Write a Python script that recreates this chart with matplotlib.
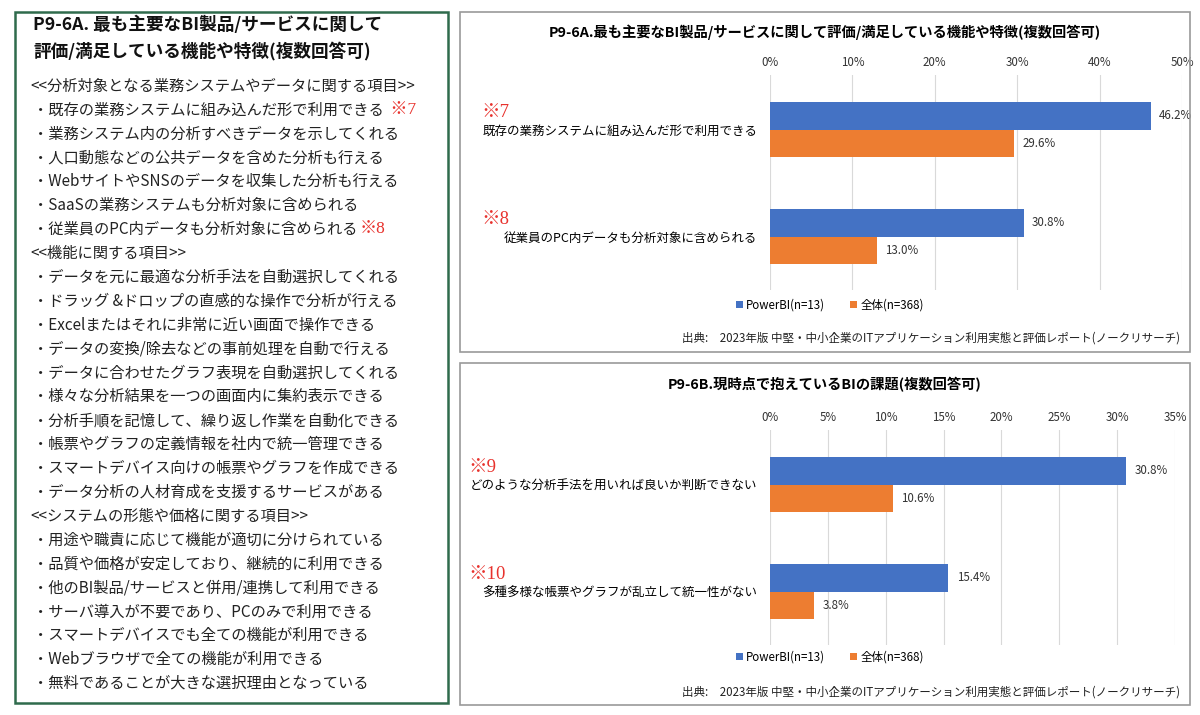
import matplotlib
matplotlib.use("Agg")
import matplotlib.pyplot as plt
from matplotlib.patches import Rectangle
from matplotlib.transforms import blended_transform_factory

plt.rcParams['font.family'] = ['Noto Sans CJK JP', 'DejaVu Sans']

# data
cats_a = ['既存の業務システムに組み込んだ形で利用できる', '従業員のPC内データも分析対象に含められる']
notes_a = ['※7', '※8']
powerbi_a = [46.2, 30.8]
total_a = [29.6, 13.0]
ticks_a = [0, 10, 20, 30, 40, 50]

cats_b = ['どのような分析手法を用いれば良いか判断できない', '多種多様な帳票やグラフが乱立して統一性がない']
notes_b = ['※9', '※10']
powerbi_b = [30.8, 15.4]
total_b = [10.6, 3.8]
ticks_b = [0, 5, 10, 15, 20, 25, 30, 35]

series_names = ['PowerBI(n=13)', '全体(n=368)']
title_a = 'P9-6A.最も主要なBI製品/サービスに関して評価/満足している機能や特徴(複数回答可)'
title_b = 'P9-6B.現時点で抱えているBIの課題(複数回答可)'
source = '出典:　2023年版 中堅・中小企業のITアプリケーション利用実態と評価レポート(ノークリサーチ)'

left_title = ['P9-6A. 最も主要なBI製品/サービスに関して', '評価/満足している機能や特徴(複数回答可)']
left_lines = [
    '<<分析対象となる業務システムやデータに関する項目>>',
    '・既存の業務システムに組み込んだ形で利用できる',
    '・業務システム内の分析すべきデータを示してくれる',
    '・人口動態などの公共データを含めた分析も行える',
    '・WebサイトやSNSのデータを収集した分析も行える',
    '・SaaSの業務システムも分析対象に含められる',
    '・従業員のPC内データも分析対象に含められる',
    '<<機能に関する項目>>',
    '・データを元に最適な分析手法を自動選択してくれる',
    '・ドラッグ &ドロップの直感的な操作で分析が行える',
    '・Excelまたはそれに非常に近い画面で操作できる',
    '・データの変換/除去などの事前処理を自動で行える',
    '・データに合わせたグラフ表現を自動選択してくれる',
    '・様々な分析結果を一つの画面内に集約表示できる',
    '・分析手順を記憶して、繰り返し作業を自動化できる',
    '・帳票やグラフの定義情報を社内で統一管理できる',
    '・スマートデバイス向けの帳票やグラフを作成できる',
    '・データ分析の人材育成を支援するサービスがある',
    '<<システムの形態や価格に関する項目>>',
    '・用途や職責に応じて機能が適切に分けられている',
    '・品質や価格が安定しており、継続的に利用できる',
    '・他のBI製品/サービスと併用/連携して利用できる',
    '・サーバ導入が不要であり、PCのみで利用できる',
    '・スマートデバイスでも全ての機能が利用できる',
    '・Webブラウザで全ての機能が利用できる',
    '・無料であることが大きな選択理由となっている',
]
left_notes = {1: ' ※7', 6: '※8'}

BLUE = '#4472C4'
ORANGE = '#ED7D31'
RED = '#E8322D'
NOTE_FONT = ['Liberation Serif', 'Noto Sans CJK JP']

W, H = 1200, 715
fig = plt.figure(figsize=(W / 100, H / 100), dpi=100)


def fx(x):
    return x / W


def fy(y):
    return 1 - y / H


# left text panel
fig.patches.append(Rectangle((fx(15), fy(703)), fx(433), 691 / H, transform=fig.transFigure,
                             fill=False, edgecolor='#2f6b4c', linewidth=1.8))
for i, t in enumerate(left_title):
    fig.text(fx(33), fy(25 + i * 26), t, fontsize=12.7, fontweight='bold', va='center', color='#111111')

line_texts = []
for i, t in enumerate(left_lines):
    x = 30 if t.startswith('<<') else 33
    line_texts.append(fig.text(fx(x), fy(86 + i * 23.9), t, fontsize=11, va='center', color='#222222'))

fig.canvas.draw()
renderer = fig.canvas.get_renderer()
for idx, note in left_notes.items():
    bb = line_texts[idx].get_window_extent(renderer)
    fig.text(bb.x1 / W + fx(2), fy(86 + idx * 23.9), note, fontsize=12.5, va='center', color=RED,
             family=NOTE_FONT)


def bar_panel(box, ax_box, title, title_y, cats, notes, vals1, vals2, ticks, note_x, legend_y, source_y):
    x0, y0, x1, y1 = box
    fig.patches.append(Rectangle((fx(x0), fy(y1)), fx(x1 - x0), (y1 - y0) / H,
                                 transform=fig.transFigure, fill=False, edgecolor='#9a9a9a', linewidth=1.2))
    fig.text(fx((x0 + x1) / 2), fy(title_y), title, fontsize=10.3, fontweight='bold', ha='center', va='center')

    ax = fig.add_axes(ax_box)
    pos = list(range(len(cats)))
    h = 0.255
    b1 = ax.barh([p - h / 2 for p in pos], vals1, height=h, color=BLUE, label=series_names[0])
    b2 = ax.barh([p + h / 2 for p in pos], vals2, height=h, color=ORANGE, label=series_names[1])
    for bars, vals in ((b1, vals1), (b2, vals2)):
        for rect, v in zip(bars, vals):
            ax.annotate(f'{v:.1f}%', (v, rect.get_y() + rect.get_height() / 2), xytext=(6, 0),
                        textcoords='offset points', va='center', fontsize=8.3, color='#333333')
    ax.set_xlim(ticks[0], ticks[-1])
    ax.set_ylim(1.5, -0.51)
    ax.set_xticks(ticks)
    ax.set_xticklabels([f'{t}%' for t in ticks])
    ax.xaxis.tick_top()
    ax.tick_params(axis='x', length=0, pad=4, labelsize=8.3, colors='#333333')
    ax.set_yticks(pos)
    ax.set_yticklabels(cats, fontsize=9)
    ax.tick_params(axis='y', length=0, pad=9)
    ax.grid(axis='x', color='#d9d9d9', linewidth=0.8)
    ax.set_axisbelow(True)
    for s in ax.spines.values():
        s.set_visible(False)
    tr = blended_transform_factory(ax.transAxes, ax.transData)
    for p, n in zip(pos, notes):
        ax.text(note_x, p - 0.16, n, transform=tr, fontsize=13.5, color=RED, va='center', ha='left',
                family=NOTE_FONT)
    ax.legend(loc='center', bbox_to_anchor=(fx(830), fy(legend_y)), bbox_transform=fig.transFigure,
              ncol=2, frameon=False, fontsize=8.3, handlelength=0.6, handleheight=0.6,
              handletextpad=0.3, columnspacing=2.2)
    fig.text(fx(x1 - 10), fy(source_y), source, fontsize=8.3, ha='right', va='center', color='#222222')
    return ax


bar_panel((460, 12, 1190, 352), [fx(770), fy(290), fx(412), 215 / H], title_a, 32,
          cats_a, notes_a, powerbi_a, total_a, ticks_a, -0.70, 305, 338)
bar_panel((460, 363, 1190, 705), [fx(770), fy(645), fx(405), 215 / H], title_b, 385,
          cats_b, notes_b, powerbi_b, total_b, ticks_b, -0.745, 657, 692)

fig.savefig('out.png', dpi=100)
